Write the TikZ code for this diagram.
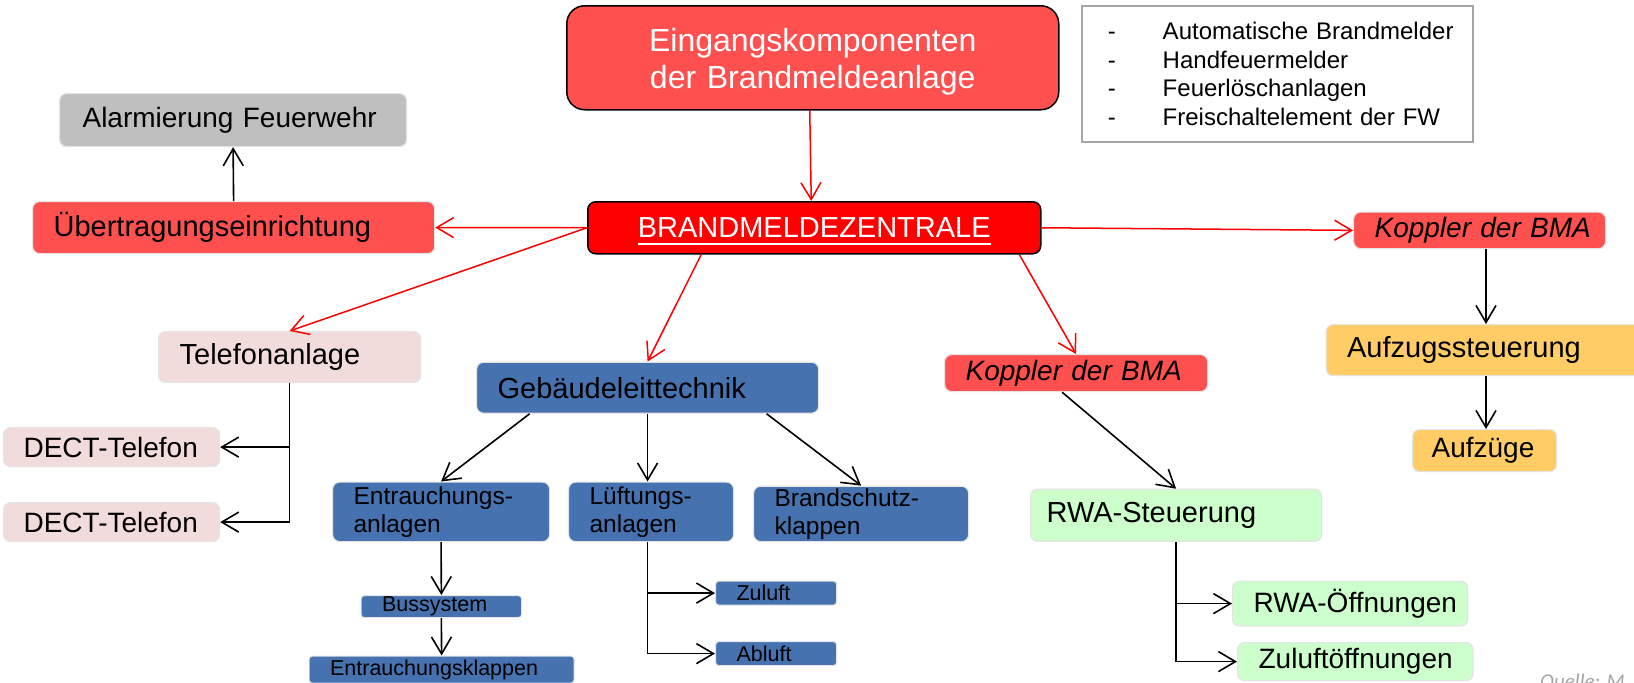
\documentclass[tikz,border=0pt]{standalone}
\usepackage{fontspec}
\setmainfont{Liberation Sans}
\newfontfamily\quellefont{Carlito}
\usetikzlibrary{arrows.meta}
\definecolor{redL}{HTML}{FF5050}
\definecolor{redD}{HTML}{FF0000}
\definecolor{grayB}{HTML}{BFBFBF}
\definecolor{pinkB}{HTML}{F2DCDB}
\definecolor{blueB}{HTML}{4672B0}
\definecolor{orangeB}{HTML}{FFCC66}
\definecolor{greenB}{HTML}{CCFFCC}
\definecolor{edgeB}{HTML}{E4E4E4}
\definecolor{legendB}{HTML}{A6A6A6}
\definecolor{quelleC}{HTML}{A6A6A6}
\newcommand\ulbox[1]{\setbox0=\hbox{#1}\rlap{\copy0}\smash{\rule[-7pt]{\wd0}{2pt}}}
\newcommand\legline[1]{\mbox{\makebox[55pt][l]{-}#1}}
\begin{document}
\begin{tikzpicture}[x=1pt,y=-1pt,
  nbox/.style={rounded corners=7pt, draw=edgeB, line width=1.2pt, inner xsep=21pt, inner ysep=0pt,
    align=left, anchor=north west, text=black, font=\fontsize{29pt}{34pt}\selectfont},
  fA/.style={font=\fontsize{28pt}{33pt}\selectfont},
  fAi/.style={font=\fontsize{28pt}{33pt}\selectfont\itshape},
  subbox/.style={nbox, font=\fontsize{24.5pt}{28pt}\selectfont},
  smallbox/.style={nbox, rounded corners=3pt, font=\fontsize{21.5pt}{24pt}\selectfont},
  redarr/.style={draw=redD, line width=1.5pt, -{Straight Barb[length=17pt,width=20pt]}},
  blkarr/.style={draw=black, line width=1.6pt, -{Straight Barb[length=17pt,width=20pt]}}]
\useasboundingbox (0,0) rectangle (1634,683);
\fill[white] (0,0) rectangle (1634,683);
\clip (0,0) rectangle (1634,683);

% nodes
\node[nbox, draw=black, line width=1.5pt, rounded corners=18pt, fill=redL, text=white, align=center,
  text width=450pt, minimum height=104pt, font=\fontsize{32pt}{37pt}\selectfont] (eing) at (566,5)
  {\rule{0pt}{31pt}Eingangskomponenten\\der Brandmeldeanlage};
\node[draw=legendB, line width=1.5pt, anchor=north west, inner xsep=26pt, inner ysep=0pt, text width=339pt,
  minimum height=136pt, align=left, font=\fontsize{24pt}{28.6pt}\selectfont] (legend) at (1081,5)
  {\legline{Automatische Brandmelder}\\
   \legline{Handfeuermelder}\\
   \legline{Feuerlöschanlagen}\\
   \legline{Freischaltelement der FW}};
\node[nbox, fill=grayB, inner xsep=23pt, text width=301pt, minimum height=53pt, fA] (alarm) at (59,93) {\mbox{Alarmierung Feuerwehr}};
\node[nbox, fill=redL, text width=360pt, minimum height=52pt] (ueb) at (32,201) {\mbox{Übertragungseinrichtung}};
\node[nbox, draw=black, line width=1.5pt, rounded corners=8pt, fill=redD, text=white, align=center,
  text width=411pt, minimum height=52pt] (bmz) at (587,201) {\ulbox{BRANDMELDEZENTRALE}};
\node[nbox, fill=redL, text width=210pt, minimum height=36.5pt, fAi] (kopr) at (1353,211.5) {\mbox{Koppler der BMA}};
\node[nbox, fill=pinkB, text width=220pt, minimum height=51pt] (tel) at (158,331) {\mbox{Telefonanlage}};
\node[nbox, fill=blueB, text width=300pt, minimum height=51pt] (geb) at (476,361.6) {\mbox{Gebäudeleittechnik}};
\node[nbox, fill=redL, text width=221pt, minimum height=37pt, fAi] (kopm) at (944,354) {\mbox{Koppler der BMA}};
\node[nbox, fill=orangeB, text width=288pt, minimum height=51pt] (aufst) at (1325.5,324) {\mbox{Aufzugssteuerung}};
\node[nbox, fill=orangeB, inner xsep=19pt, text width=106pt, minimum height=42pt, fA] (aufz) at (1412,429) {\mbox{Aufzüge}};
\node[nbox, fill=pinkB, inner xsep=20pt, text width=176pt, minimum height=39pt, fA] (dect1) at (3,427) {\mbox{DECT-Telefon}};
\node[nbox, fill=pinkB, inner xsep=20pt, text width=176pt, minimum height=39pt, fA] (dect2) at (3,502) {\mbox{DECT-Telefon}};
\node[subbox, fill=blueB, text width=175pt, minimum height=59.5pt] (entr) at (332,481.5) {Entrauchungs-\\anlagen};
\node[subbox, fill=blueB, text width=123pt, minimum height=59.5pt] (luef) at (568,481.5) {Lüftungs-\\anlagen};
\node[subbox, fill=blueB, text width=173pt, minimum height=55.4pt] (brand) at (753,485.6) {Brandschutz-\\klappen};
\node[nbox, fill=greenB, inner xsep=16pt, text width=259pt, minimum height=52pt] (rwa) at (1030,488.7) {\mbox{RWA-Steuerung}};
\node[smallbox, fill=blueB, text width=118.5pt, minimum height=22pt] (bus) at (360.5,595) {\mbox{Bussystem}};
\node[smallbox, fill=blueB, text width=223pt, minimum height=27pt] (eklap) at (308.5,655.5) {\mbox{Entrauchungsklappen}};
\node[smallbox, fill=blueB, text width=79pt, minimum height=24pt] (zul) at (715,580.5) {\mbox{Zuluft}};
\node[smallbox, fill=blueB, text width=79pt, minimum height=24pt] (abl) at (715,641) {\mbox{Abluft}};
\node[nbox, fill=greenB, text width=193pt, minimum height=45pt, fA] (roeff) at (1232,580.5) {\mbox{RWA-Öffnungen}};
\node[nbox, fill=greenB, text width=193.5pt, minimum height=38pt, fA] (zoeff) at (1237,642) {\mbox{Zuluftöffnungen}};
\node[anchor=base west, inner sep=0pt, text=quelleC, font=\quellefont\itshape\fontsize{21pt}{24pt}\selectfont] (src) at (1540,688) {Quelle: M.};

% red connectors
\draw[redarr] ([xshift=-3pt]eing.south) -- ([xshift=-3pt]bmz.north);
\draw[redarr] (bmz.west) -- (ueb.east);
\draw[redarr] (bmz.west) -- (tel.north);
\draw[redarr] ([xshift=-113pt]bmz.south) -- (geb.north);
\draw[redarr] ([xshift=205pt]bmz.south) -- (kopm.north);
\draw[redarr] (bmz.east) -- (kopr.west);

% black connectors
\draw[blkarr] (ueb.north) -- (alarm.south);
\coordinate (ax) at (1486,0);
\draw[blkarr] (kopr.south -| ax) -- (aufst.north -| ax);
\draw[blkarr] (aufst.south -| ax) -- (aufz.north -| ax);
\draw[blkarr] (tel.south) |- (dect2.east);
\draw[blkarr] (tel.south |- dect1.east) -- (dect1.east);
\draw[blkarr] ([xshift=-118pt]geb.south) -- (entr.north);
\draw[blkarr] (geb.south) -- (geb.south |- luef.north);
\draw[blkarr] ([xshift=119pt]geb.south) -- (brand.north);
\draw[blkarr] (entr.south) -- (bus.north);
\draw[blkarr] (bus.south) -- (eklap.north);
\coordinate (lv) at (luef.south -| geb.south);
\draw[blkarr] (lv) |- (abl.west);
\draw[blkarr] (lv |- zul.west) -- (zul.west);
\draw[blkarr] ([xshift=-14pt]kopm.south) -- (rwa.north);
\draw[blkarr] (rwa.south) |- (zoeff.west);
\draw[blkarr] (rwa.south |- roeff.west) -- (roeff.west);
\end{tikzpicture}
\end{document}
